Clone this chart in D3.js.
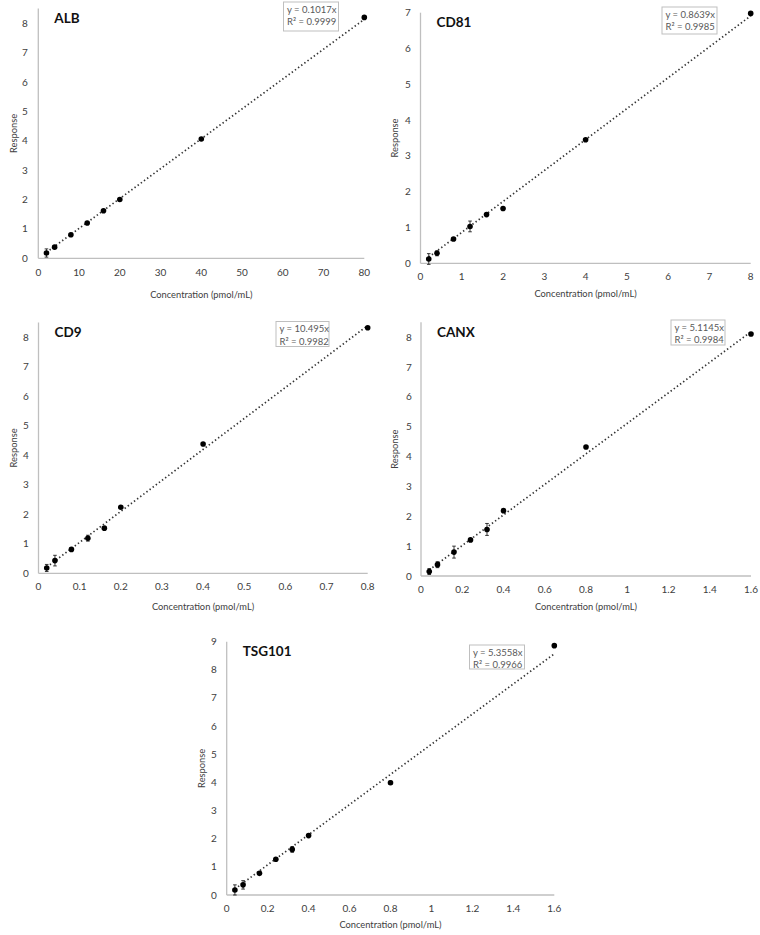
<!DOCTYPE html>
<html>
<head>
<meta charset="utf-8">
<script src="https://cdn.jsdelivr.net/npm/d3@7"></script>
<style>
  body { margin: 0; background: #fff; }
  svg text { font-family: Lato, "Open Sans", sans-serif; }
</style>
</head>
<body>
<script>
// calibration curves, five proteins

const albConc = [2, 4, 8, 12, 16, 20, 40, 80];
const albResp = [0.18, 0.38, 0.8, 1.2, 1.62, 2.0, 4.06, 8.2];
const albErr  = [0.14, 0.03, 0.02, 0.02, 0.02, 0.02, 0.03, 0.03];

const cd81Conc = [0.2, 0.4, 0.8, 1.2, 1.6, 2, 4, 8];
const cd81Resp = [0.12, 0.28, 0.68, 1.03, 1.36, 1.53, 3.45, 6.98];
const cd81Err  = [0.15, 0.07, 0.03, 0.15, 0.03, 0.03, 0.03, 0.03];

const cd9Conc = [0.02, 0.04, 0.08, 0.12, 0.16, 0.2, 0.4, 0.8];
const cd9Resp = [0.18, 0.43, 0.81, 1.19, 1.53, 2.24, 4.38, 8.32];
const cd9Err  = [0.12, 0.18, 0.05, 0.1, 0.04, 0.03, 0.03, 0.03];

const canxConc = [0.04, 0.08, 0.16, 0.24, 0.32, 0.4, 0.8, 1.6];
const canxResp = [0.15, 0.38, 0.8, 1.21, 1.56, 2.19, 4.32, 8.11];
const canxErr  = [0.1, 0.1, 0.2, 0.03, 0.2, 0.03, 0.03, 0.03];

const tsgConc = [0.04, 0.08, 0.16, 0.24, 0.32, 0.4, 0.8, 1.6];
const tsgResp = [0.18, 0.36, 0.77, 1.27, 1.62, 2.11, 3.99, 8.86];
const tsgErr  = [0.18, 0.15, 0.05, 0.03, 0.1, 0.03, 0.06, 0.03];

const names  = ["ALB", "CD81", "CD9", "CANX", "TSG101"];
const slopes = [0.1017, 0.8639, 10.495, 5.1145, 5.3558];
const eqText = ["y = 0.1017x", "y = 0.8639x", "y = 10.495x", "y = 5.1145x", "y = 5.3558x"];
const r2Text = ["R² = 0.9999", "R² = 0.9985", "R² = 0.9982", "R² = 0.9984", "R² = 0.9966"];
const xMaxes = [80, 8, 0.8, 1.6, 1.6];
const yMaxes = [8.5, 7, 8.5, 8.5, 9];
const xTickVals = [
  [0, 10, 20, 30, 40, 50, 60, 70, 80],
  [0, 1, 2, 3, 4, 5, 6, 7, 8],
  [0, 0.1, 0.2, 0.3, 0.4, 0.5, 0.6, 0.7, 0.8],
  [0, 0.2, 0.4, 0.6, 0.8, 1, 1.2, 1.4, 1.6],
  [0, 0.2, 0.4, 0.6, 0.8, 1, 1.2, 1.4, 1.6]
];
const yTickVals = [
  d3.range(0, 9), d3.range(0, 8), d3.range(0, 9), d3.range(0, 9), d3.range(0, 10)
];
const xLabel = "Concentration (pmol/mL)";
const yLabel = "Response";

const series = [
  { conc: albConc, resp: albResp, err: albErr },
  { conc: cd81Conc, resp: cd81Resp, err: cd81Err },
  { conc: cd9Conc, resp: cd9Resp, err: cd9Err },
  { conc: canxConc, resp: canxResp, err: canxErr },
  { conc: tsgConc, resp: tsgResp, err: tsgErr }
];

// where each plot sits on the page (x0/x1 = x axis ends, yb = baseline, yt = top)
const layout = [
  { x0: 38.3,  x1: 364.3, yb: 258.3, yt: 8.6,   xTickY: 276, xTitleY: 298, yTickX: 25,  yTitleX: 14,  box: [283.5, 2, 55, 29] },
  { x0: 420.5, x1: 750.7, yb: 263.3, yt: 12.7,  xTickY: 280, xTitleY: 297, yTickX: 408, yTitleX: 395, box: [662, 7, 55, 27] },
  { x0: 38.5,  x1: 367.7, yb: 573.3, yt: 322.5, xTickY: 590, xTitleY: 610, yTickX: 26,  yTitleX: 14,  box: [276, 321.5, 53, 25] },
  { x0: 421,   x1: 751,   yb: 576,   yt: 322.3, xTickY: 593, xTitleY: 610, yTickX: 409, yTitleX: 395, box: [671, 320, 54, 25] },
  { x0: 226.7, x1: 554.3, yb: 895,   yt: 641.7, xTickY: 912, xTitleY: 928, yTickX: 214, yTitleX: 202, box: [469.5, 645, 55, 24] }
];

const svg = d3.select("body").append("svg")
  .attr("width", 760)
  .attr("height", 935);

const axisGrey = "#bfbfbf";
const textGrey = "#404040";

series.forEach(function(s, i) {
  const L = layout[i];
  const g = svg.append("g");

  const x = d3.scaleLinear().domain([0, xMaxes[i]]).range([L.x0, L.x1]);
  const y = d3.scaleLinear().domain([0, yMaxes[i]]).range([L.yb, L.yt]);

  // axis lines, no tick marks
  g.append("line")
    .attr("x1", L.x0).attr("x2", L.x1)
    .attr("y1", L.yb).attr("y2", L.yb)
    .attr("stroke", axisGrey).attr("stroke-width", 1.3);
  g.append("line")
    .attr("x1", L.x0).attr("x2", L.x0)
    .attr("y1", L.yb).attr("y2", L.yt)
    .attr("stroke", axisGrey).attr("stroke-width", 1.3);

  g.selectAll(".xt")
    .data(xTickVals[i])
    .enter().append("text")
    .attr("x", d => x(d))
    .attr("y", L.xTickY)
    .attr("text-anchor", "middle")
    .attr("font-size", 10)
    .attr("fill", textGrey)
    .text(d => d3.format("~g")(d));

  g.selectAll(".yt")
    .data(yTickVals[i])
    .enter().append("text")
    .attr("x", L.yTickX)
    .attr("y", d => y(d))
    .attr("dy", "0.35em")
    .attr("text-anchor", "middle")
    .attr("font-size", 10)
    .attr("fill", textGrey)
    .text(d => d);

  g.append("text")
    .attr("x", (L.x0 + L.x1) / 2)
    .attr("y", L.xTitleY)
    .attr("text-anchor", "middle")
    .attr("font-size", 9.3)
    .attr("fill", textGrey)
    .text(xLabel);

  g.append("text")
    .attr("transform", `translate(${L.yTitleX},${(L.yb + L.yt) / 2}) rotate(-90)`)
    .attr("text-anchor", "middle")
    .attr("dy", "0.35em")
    .attr("font-size", 9.3)
    .attr("fill", textGrey)
    .text(yLabel);

  // title inside the plot
  g.append("text")
    .attr("x", L.x0 + 16)
    .attr("y", L.yt + 14.5)
    .attr("font-size", 13.5)
    .attr("font-weight", 700)
    .attr("fill", "#111")
    .text(names[i]);

  // trendline through origin, over the data range
  const xs = d3.extent(s.conc);
  const trend = d3.line().x(d => x(d)).y(d => y(d * slopes[i]));
  g.append("path")
    .datum(xs)
    .attr("d", trend)
    .attr("fill", "none")
    .attr("stroke", "#333")
    .attr("stroke-width", 1.7)
    .attr("stroke-dasharray", "1.4,2.5");

  const pts = s.conc.map((c, k) => ({ c: c, r: s.resp[k], e: s.err[k] }));

  // error bars
  const eb = g.selectAll(".eb").data(pts).enter().append("g");
  eb.append("line")
    .attr("x1", d => x(d.c)).attr("x2", d => x(d.c))
    .attr("y1", d => y(d.r - d.e)).attr("y2", d => y(d.r + d.e))
    .attr("stroke", "#222").attr("stroke-width", 0.9);
  [-1, 1].forEach(function(sign) {
    eb.append("line")
      .attr("x1", d => x(d.c) - 1.8).attr("x2", d => x(d.c) + 1.8)
      .attr("y1", d => y(d.r + sign * d.e)).attr("y2", d => y(d.r + sign * d.e))
      .attr("stroke", "#222").attr("stroke-width", 0.9);
  });

  g.selectAll(".pt")
    .data(pts)
    .enter().append("circle")
    .attr("cx", d => x(d.c))
    .attr("cy", d => y(d.r))
    .attr("r", 2.8)
    .attr("fill", "#000");

  // equation box
  const b = L.box;
  g.append("rect")
    .attr("x", b[0]).attr("y", b[1])
    .attr("width", b[2]).attr("height", b[3])
    .attr("fill", "#fff")
    .attr("stroke", axisGrey)
    .attr("stroke-width", 1);
  g.append("text")
    .attr("x", b[0] + 3.5).attr("y", b[1] + 10.5)
    .attr("font-size", 9.5).attr("fill", "#595959")
    .text(eqText[i]);
  g.append("text")
    .attr("x", b[0] + 3.5).attr("y", b[1] + 23)
    .attr("font-size", 9.5).attr("fill", "#595959")
    .text(r2Text[i]);
});
</script>
</body>
</html>
